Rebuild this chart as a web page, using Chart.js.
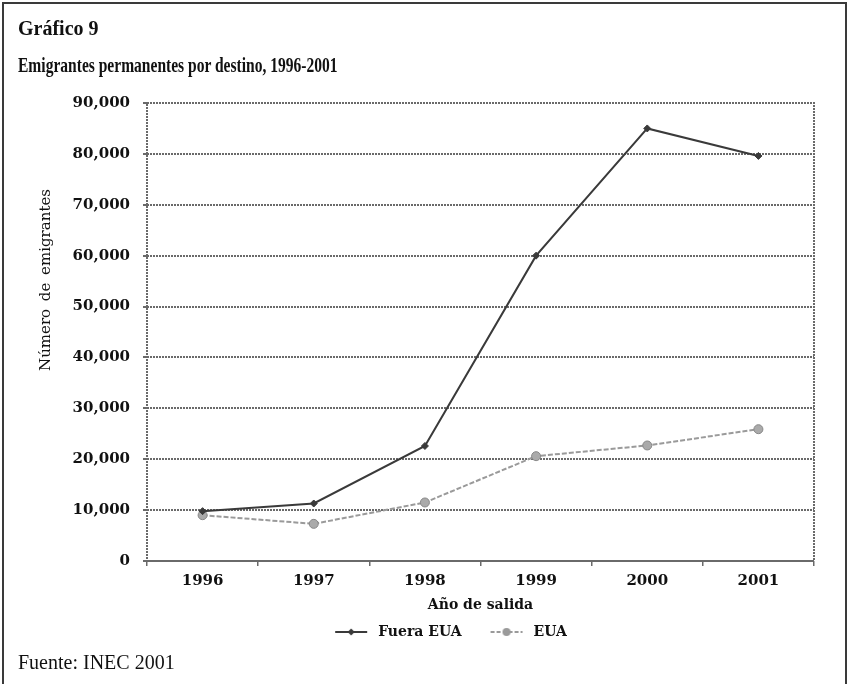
<!DOCTYPE html>
<html>
<head>
<meta charset="utf-8">
<script src="https://cdn.jsdelivr.net/npm/chart.js@4.4.1/dist/chart.umd.min.js"></script>
<style>
  html, body { margin: 0; padding: 0; background: #fff; }
  #wrap { position: relative; width: 852px; height: 684px; overflow: hidden; }
  #frame { position: absolute; left: 2px; top: 2px; width: 845px; height: 720px; border: 2px solid #3a3a3a; box-sizing: border-box; }
  canvas { position: absolute; left: 0; top: 0; }
  .txt { position: absolute; color: #111; white-space: nowrap; font-family: "Liberation Serif", serif; }
  #t1 { left: 18px; top: 17px; font-size: 20px; font-weight: bold; }
  #t2 { left: 18px; top: 53px; font-size: 21px; font-weight: bold; transform: scaleX(0.74); transform-origin: left top; }
  #src { left: 18px; top: 651px; font-size: 20px; }
  #ytitle { left: 45px; top: 280px; font-family: "DejaVu Serif", serif; font-size: 15px; word-spacing: 3px;
            transform: translate(-50%, -50%) rotate(-90deg); }
</style>
</head>
<body>
<div id="wrap">
  <canvas id="chart" width="852" height="684"></canvas>
  <div id="frame"></div>
  <div class="txt" id="t1">Gráfico 9</div>
  <div class="txt" id="t2">Emigrantes permanentes por destino, 1996-2001</div>
  <div class="txt" id="ytitle">Número de emigrantes</div>
  <div class="txt" id="src">Fuente: INEC 2001</div>
</div>
<script>
const years = ["1996", "1997", "1998", "1999", "2000", "2001"];
const fueraEUA = [9800, 11300, 22600, 60000, 85000, 79600];
const eua = [9000, 7300, 11500, 20600, 22700, 25900];
const seriesNames = ["Fuera EUA", "EUA"];

const DARK = "#3a3a3a";
const LIGHT = "#9a9a9a";
const GRID = "#6a6a6a";

// line + marker sample for the legend (blank room on the left keeps the items apart)
function legendMark(color, dash, marker) {
  const c = document.createElement("canvas");
  c.width = 56;
  c.height = 12;
  const g = c.getContext("2d");
  g.strokeStyle = color;
  g.lineWidth = 2;
  g.setLineDash(dash);
  g.beginPath();
  g.moveTo(20, 6);
  g.lineTo(52, 6);
  g.stroke();
  g.setLineDash([]);
  g.fillStyle = color;
  g.beginPath();
  if (marker === "diamond") {
    g.moveTo(36, 2.5); g.lineTo(39.5, 6); g.lineTo(36, 9.5); g.lineTo(32.5, 6);
  } else {
    g.arc(36, 6, 4, 0, Math.PI * 2);
  }
  g.closePath();
  g.fill();
  return c;
}

const marks = [legendMark(DARK, [], "diamond"), legendMark(LIGHT, [4, 2], "circle")];

const plotFrame = {
  id: "plotFrame",
  beforeDatasetsDraw(chart) {
    const { ctx, chartArea: a } = chart;
    ctx.save();
    ctx.strokeStyle = GRID;
    ctx.lineWidth = 2;
    ctx.setLineDash([2, 1]);
    ctx.strokeRect(a.left, a.top, a.right - a.left, a.bottom - a.top);
    ctx.restore();
  }
};

const tickFont = { family: "DejaVu Serif", size: 15, weight: "bold" };

new Chart(document.getElementById("chart"), {
  type: "line",
  data: {
    labels: years,
    datasets: [
      {
        label: seriesNames[0],
        data: fueraEUA,
        borderColor: DARK,
        borderWidth: 2,
        tension: 0,
        pointStyle: "rectRot",
        pointRadius: 3.5,
        pointBackgroundColor: DARK,
        pointBorderColor: DARK,
        pointBorderWidth: 1
      },
      {
        label: seriesNames[1],
        data: eua,
        borderColor: LIGHT,
        borderWidth: 2,
        borderDash: [5, 2],
        tension: 0,
        pointStyle: "circle",
        pointRadius: 4.5,
        pointBackgroundColor: "#aaa",
        pointBorderColor: "#888",
        pointBorderWidth: 1
      }
    ]
  },
  options: {
    responsive: false,
    animation: false,
    layout: { padding: { left: 68, right: 38, top: 103, bottom: 35 } },
    plugins: {
      tooltip: { enabled: false },
      legend: {
        position: "bottom",
        labels: {
          usePointStyle: true,
          pointStyleWidth: 56,
          padding: 9,
          color: "#111",
          font: { family: "DejaVu Serif", size: 14, weight: "bold" },
          generateLabels: ch => ch.data.datasets.map((d, i) => ({
            text: d.label,
            pointStyle: marks[i],
            datasetIndex: i,
            fontColor: "#111",
            lineWidth: 0,
            hidden: false
          }))
        }
      }
    },
    scales: {
      x: {
        offset: true,
        border: { display: false },
        grid: { offset: true, drawOnChartArea: false, tickLength: 5, color: GRID, lineWidth: 1.5 },
        ticks: { color: "#111", font: tickFont, padding: 6, maxRotation: 0 },
        title: {
          display: true,
          text: "Año de salida",
          color: "#111",
          font: { family: "DejaVu Serif", size: 14, weight: "bold" },
          padding: { top: 4, bottom: 2 }
        },
        afterFit: s => { s.height = 55; }
      },
      y: {
        min: 0,
        max: 90000,
        border: { display: false, dash: [2, 1] },
        grid: { color: GRID, lineWidth: 2, tickLength: 4 },
        ticks: {
          stepSize: 10000,
          color: "#111",
          font: tickFont,
          padding: 13,
          callback: v => v.toLocaleString("en-US")
        },
        afterFit: s => { s.width = 79; }
      }
    }
  },
  plugins: [plotFrame]
});
</script>
</body>
</html>
